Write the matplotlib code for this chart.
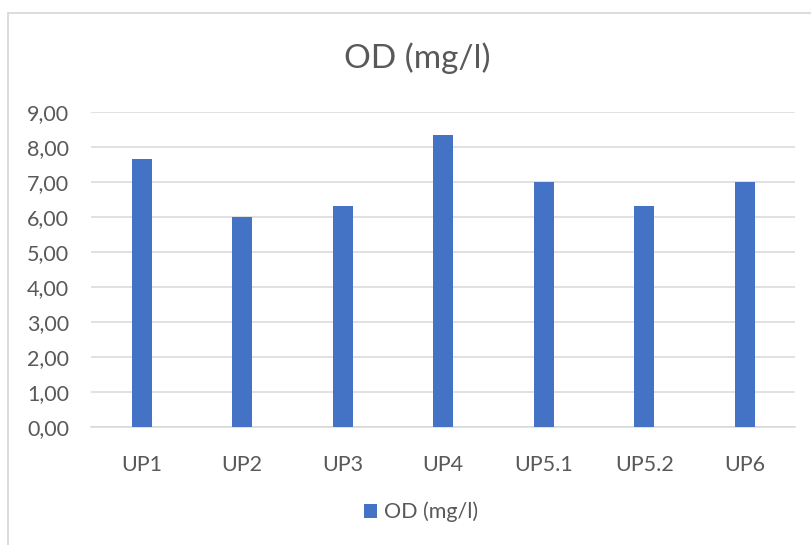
import matplotlib.pyplot as plt
from matplotlib.patches import Rectangle
from matplotlib.ticker import FuncFormatter

# data
categories = ['UP1', 'UP2', 'UP3', 'UP4', 'UP5.1', 'UP5.2', 'UP6']
od_values = [7.67, 6.00, 6.33, 8.33, 7.00, 6.33, 7.00]
series_name = 'OD (mg/l)'

plt.rcParams['font.family'] = ['Lato', 'DejaVu Sans']

fig = plt.figure(figsize=(8.11, 5.45), dpi=100)
ax = fig.add_axes([0.1126, 0.2160, 0.8677, 0.5785])

bars = ax.bar(range(len(categories)), od_values, width=0.2,
              color='#4472C4', label=series_name, zorder=3)

ax.set_xlim(-0.5, len(categories) - 0.5)
ax.set_ylim(0, 9)
ax.set_yticks(range(0, 10))
ax.yaxis.set_major_formatter(FuncFormatter(lambda v, p: f'{v:.2f}'.replace('.', ',')))
ax.set_xticks(range(len(categories)))
ax.set_xticklabels(categories)

ax.grid(axis='y', color='#D9D9D9', linewidth=1.1, zorder=0)
for s in ['top', 'right', 'left']:
    ax.spines[s].set_visible(False)
ax.spines['bottom'].set_color('#D9D9D9')
ax.spines['bottom'].set_linewidth(1.1)
ax.tick_params(length=0, labelsize=15.5, labelcolor='#595959')
ax.tick_params(axis='x', pad=20)
ax.tick_params(axis='y', pad=16)

fig.text(0.5145, 1 - 58 / 545, 'OD (mg/l)', ha='center', va='center',
         fontsize=24, color='#595959')

fig.legend(handles=[bars], labels=[series_name], loc='center',
           bbox_to_anchor=(421 / 811, 1 - 512 / 545), frameon=False,
           fontsize=15.5, labelcolor='#595959', handlelength=0.6,
           handleheight=0.6, handletextpad=0.35)

# chart border (light gray frame, runs off right and bottom edges)
fig.patches.append(Rectangle((8 / 811, -0.05), 1.2, 1 - 13 / 545 + 0.05,
                             transform=fig.transFigure, fill=False,
                             edgecolor='#D9D9D9', linewidth=1.3))

fig.savefig('out.png', dpi=100)
